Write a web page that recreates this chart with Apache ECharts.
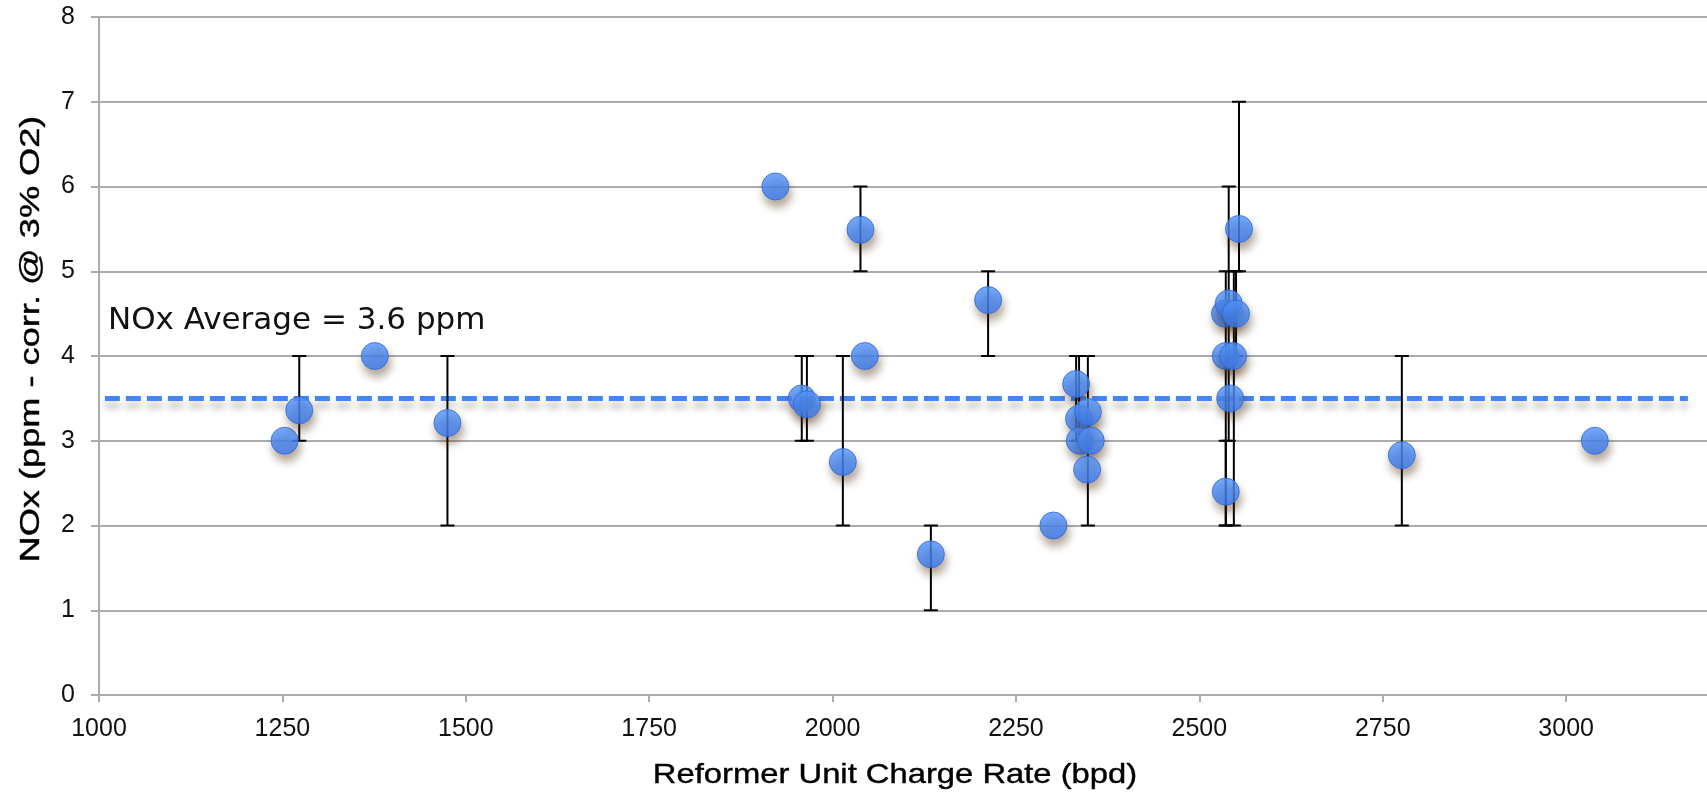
<!DOCTYPE html>
<html>
<head>
<meta charset="utf-8">
<script src="https://cdn.jsdelivr.net/npm/echarts@6/dist/echarts.min.js"></script>
<style>
html,body{margin:0;padding:0;background:#fff;}
#chart{width:1707px;height:799px;}
</style>
</head>
<body>
<div id="chart"></div>
<script>
// Measurements: charge rate (bpd) and NOx (ppm)
var pointX = [1253, 1273, 1376, 1475, 1922, 1958, 1965, 2014, 2038, 2044, 2134, 2212, 2301,
              2332, 2336, 2337, 2348, 2352, 2347,
              2535, 2540, 2550, 2536, 2546, 2542, 2536, 2554, 2776, 3039];
var pointY = [3.0, 3.36, 4.0, 3.21, 6.0, 3.5, 3.43, 2.75, 5.49, 4.0, 1.66, 4.66, 2.0,
              3.67, 3.26, 3.0, 3.34, 3.0, 2.66,
              4.5, 4.62, 4.5, 4.0, 4.0, 3.5, 2.4, 5.5, 2.83, 3.0];

// Error bars: x position, low, high
var errX    = [1273, 1475, 1958, 1965, 2014, 2038, 2134, 2212, 2332, 2336, 2348, 2554, 2540, 2536, 2536, 2547, 2550, 2776];
var errLow  = [3,    2,    3,    3,    2,    5,    1,    4,    3,    3,    2,    5,    3,    2,    2,    2,    4,    2];
var errHigh = [4,    4,    4,    4,    4,    6,    2,    5,    4,    4,    4,    7,    6,    5,    3,    5,    5,    4];

// Average line
var avgValue = 3.5;
var avgStart = 1008;
var avgEnd = 3166;
var avgLabel = 'NOx Average = 3.6 ppm';

var xTicks = [1000, 1250, 1500, 1750, 2000, 2250, 2500, 2750, 3000];
var yTicks = [0, 1, 2, 3, 4, 5, 6, 7, 8];
var xTitle = 'Reformer Unit Charge Rate (bpd)';
var yTitle = 'NOx (ppm - corr. @ 3% O2)';

var scatterData = pointX.map(function (x, i) { return [x, pointY[i]]; });
var errData = errX.map(function (x, i) { return [x, errLow[i], errHigh[i]]; });

var chart = echarts.init(document.getElementById('chart'), null, {renderer: 'canvas'});
var grey = '#ababab';
var tickFont = {fontFamily: 'Liberation Sans', fontSize: 25, color: '#111'};

chart.setOption({
  backgroundColor: '#fff',
  animation: false,
  grid: {left: 99, right: 0, top: 17, bottom: 104, containLabel: false},
  xAxis: {
    type: 'value',
    min: xTicks[0], max: 3192, interval: 250,
    axisLine: {show: true, lineStyle: {color: grey, width: 2}},
    axisTick: {show: true, length: 7, lineStyle: {color: grey, width: 2}},
    splitLine: {show: false},
    axisLabel: Object.assign({
      margin: 22, showMaxLabel: false,
      formatter: function (v) { return xTicks.indexOf(v) >= 0 ? String(v) : ''; }
    }, tickFont)
  },
  yAxis: {
    type: 'value',
    min: yTicks[0], max: yTicks[yTicks.length - 1], interval: 1,
    axisLine: {show: true, lineStyle: {color: grey, width: 2}},
    axisTick: {show: true, length: 8, lineStyle: {color: grey, width: 2}},
    splitLine: {show: true, lineStyle: {color: grey, width: 2}},
    axisLabel: Object.assign({margin: 24}, tickFont)
  },
  graphic: [
    {
      type: 'text', x: 895, y: 775,
      scaleX: 1.17,
      style: {text: xTitle, font: '28px "Liberation Sans"', fill: '#000', align: 'center', verticalAlign: 'middle',
              stroke: '#000', lineWidth: 0.4}
    },
    {
      type: 'text', x: 32, y: 339, rotation: Math.PI / 2,
      scaleX: 1.34,
      style: {text: yTitle, font: '27px "Liberation Sans"', fill: '#000', align: 'center', verticalAlign: 'middle',
              stroke: '#000', lineWidth: 0.4}
    },
    {
      type: 'text', x: 108, y: 321, z: 100,
      style: {text: avgLabel, font: '31px "DejaVu Sans"', fill: '#111', align: 'left', verticalAlign: 'middle'}
    }
  ],
  series: [
    {
      type: 'line',
      data: [[avgStart, avgValue], [avgEnd, avgValue]],
      symbol: 'none',
      z: 2,
      lineStyle: {
        color: '#4485f6', width: 5, type: [15, 6],
        shadowColor: 'rgba(80,60,40,0.35)', shadowBlur: 7, shadowOffsetY: 7
      }
    },
    {
      type: 'custom',
      data: errData,
      z: 3,
      encode: {x: 0, y: [1, 2]},
      renderItem: function (params, api) {
        var x = api.value(0), lo = api.value(1), hi = api.value(2);
        var pLo = api.coord([x, lo]), pHi = api.coord([x, hi]);
        var hw = 7;
        var st = {stroke: '#000', lineWidth: 2};
        return {
          type: 'group',
          children: [
            {type: 'line', shape: {x1: pLo[0], y1: pLo[1], x2: pHi[0], y2: pHi[1]}, style: st},
            {type: 'line', shape: {x1: pLo[0] - hw, y1: pLo[1], x2: pLo[0] + hw, y2: pLo[1]}, style: st},
            {type: 'line', shape: {x1: pHi[0] - hw, y1: pHi[1], x2: pHi[0] + hw, y2: pHi[1]}, style: st}
          ]
        };
      }
    },
    {
      type: 'scatter',
      data: scatterData,
      symbol: 'circle',
      symbolSize: 27,
      z: 5,
      itemStyle: {
        color: new echarts.graphic.LinearGradient(0, 0, 0, 1, [
          {offset: 0, color: '#5497ff'},
          {offset: 1, color: '#3a7cf3'}
        ]),
        borderColor: '#2f68d2',
        borderWidth: 1,
        shadowColor: 'rgba(70,40,10,0.5)',
        shadowBlur: 8,
        shadowOffsetX: 2,
        shadowOffsetY: 7
      }
    }
  ]
});
</script>
</body>
</html>
